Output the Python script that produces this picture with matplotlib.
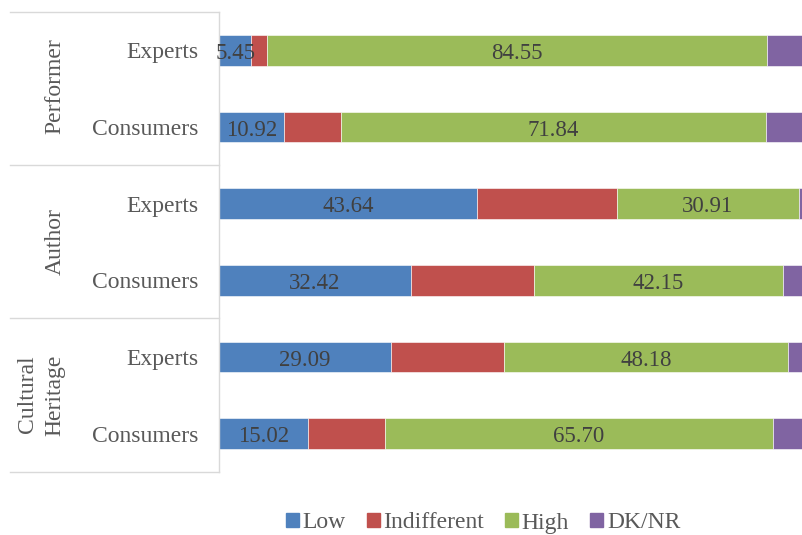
import matplotlib.pyplot as plt
import numpy as np
from matplotlib.lines import Line2D
from matplotlib.patches import Rectangle

plt.rcParams['font.family'] = ['Liberation Serif', 'DejaVu Serif']

rows = ["Experts", "Consumers", "Experts", "Consumers", "Experts", "Consumers"]
groups = ["Performer", "Author", "Cultural\nHeritage"]
series = ["Low", "Indifferent", "High", "DK/NR"]

low = [5.45, 10.92, 43.64, 32.42, 29.09, 15.02]
indifferent = [2.73, 9.76, 23.64, 20.81, 19.09, 13.00]
high = [84.55, 71.84, 30.91, 42.15, 48.18, 65.70]
dknr = [7.27, 7.48, 1.82, 4.62, 3.64, 6.28]

colors = ["#4F81BD", "#C0504D", "#9BBB59", "#8064A2"]
show_label = [True, False, True, False]

W, H = 803, 535
fig = plt.figure(figsize=(W / 100, H / 100), dpi=100)

# plot area in pixels (right side runs past the picture edge, as in the original)
left, right, top, bottom = 219, 810, 12, 472
ax = fig.add_axes([left / W, 1 - bottom / H, (right - left) / W, (bottom - top) / H])

y = np.arange(len(rows))
base = np.zeros(len(rows))
for vals, col, lab, show in zip([low, indifferent, high, dknr], colors, series, show_label):
    vals = np.array(vals)
    ax.barh(y, vals, left=base, height=0.4, color=col, label=lab,
            edgecolor="white", linewidth=0.4)
    if show:
        for yi, b, v in zip(y, base, vals):
            ax.text(b + v / 2, yi + 0.01, f"{v:.2f}", ha="center", va="center_baseline",
                    fontsize=16.5, color="#404040", clip_on=False)
    base = base + vals

ax.set_xlim(0, 100)
ax.set_ylim(len(rows) - 0.5, -0.5)
ax.set_xticks([])
ax.set_yticks(y)
ax.set_yticklabels(rows, fontsize=17, color="#595959")
ax.tick_params(axis="y", length=0, pad=15)
for s in ["top", "right", "bottom"]:
    ax.spines[s].set_visible(False)
ax.spines["left"].set_color("#d9d9d9")
ax.spines["left"].set_linewidth(1)

# group separators
for yp in [12, 165, 318, 472]:
    fig.add_artist(Line2D([10 / W, left / W], [1 - yp / H, 1 - yp / H],
                          transform=fig.transFigure, color="#d9d9d9", linewidth=1))

# group labels
fig.text(55 / W, 1 - 86 / H, "Performer", rotation=90, ha="center", va="center",
         fontsize=17, color="#595959")
fig.text(55 / W, 1 - 242 / H, "Author", rotation=90, ha="center", va="center",
         fontsize=17, color="#595959")
fig.text(27 / W, 1 - 394 / H, "Cultural", rotation=90, ha="center", va="center",
         fontsize=17, color="#595959")
fig.text(55 / W, 1 - 395 / H, "Heritage", rotation=90, ha="center", va="center",
         fontsize=17, color="#595959")

handles = [Rectangle((0, 0), 1, 1, color=c) for c in colors]
leg = fig.legend(handles, series, loc="center", bbox_to_anchor=(483 / W, 1 - 523 / H),
                 ncol=4, frameon=False, fontsize=17, handlelength=0.55, handleheight=0.55,
                 handletextpad=0.15, columnspacing=0.9)
for t in leg.get_texts():
    t.set_color("#595959")

fig.savefig("out.png", dpi=100)
